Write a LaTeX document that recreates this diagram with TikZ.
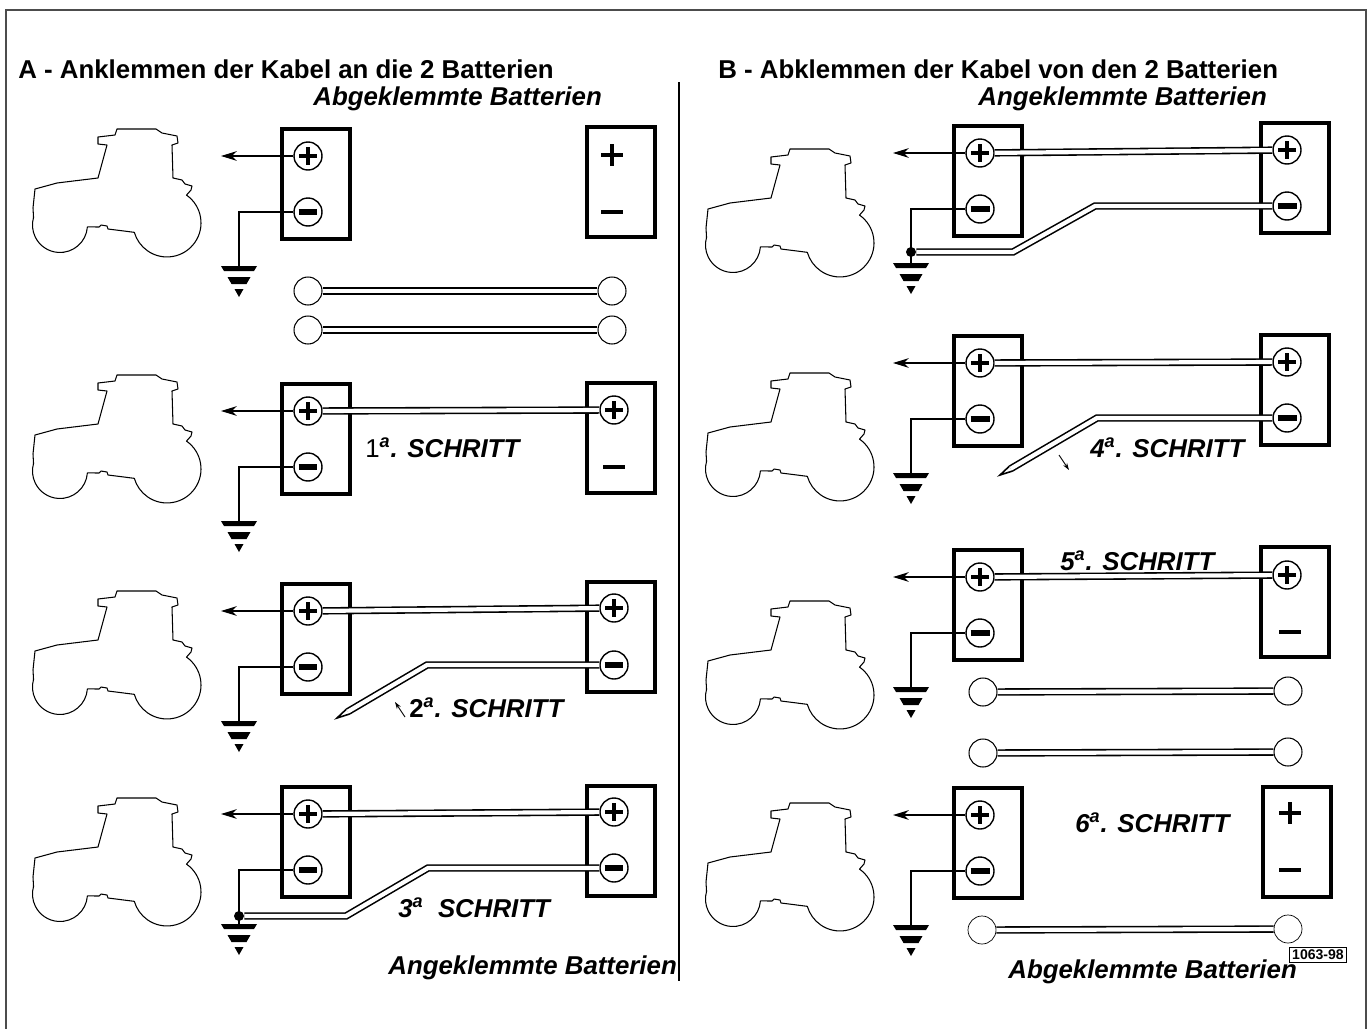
\documentclass[tikz,border=0pt]{standalone}
\usepackage{fontspec}
\setmainfont{Liberation Sans}
\usetikzlibrary{arrows.meta,calc}

\tikzset{
  batt/.style={draw, line width=2.1pt, minimum width=1.36cm, minimum height=2.2cm, inner sep=0pt},
  post/.style={circle, draw, line width=0.8pt, fill=white, minimum size=0.56cm, inner sep=0pt},
  pluspost/.style={post, path picture={
      \draw[line width=2.8pt] ([xshift=-5pt]path picture bounding box.center) -- ([xshift=5pt]path picture bounding box.center)
        ([yshift=-5pt]path picture bounding box.center) -- ([yshift=5pt]path picture bounding box.center);}},
  minuspost/.style={post, path picture={
      \draw[line width=2.9pt] ([xshift=-5.4pt]path picture bounding box.center) -- ([xshift=5.4pt]path picture bounding box.center);}},
  plussign/.style={circle, minimum size=0.6cm, inner sep=0pt, path picture={
      \draw[line width=2.8pt] ([xshift=-6pt]path picture bounding box.center) -- ([xshift=6pt]path picture bounding box.center)
        ([yshift=-6pt]path picture bounding box.center) -- ([yshift=6pt]path picture bounding box.center);}},
  minussign/.style={circle, minimum size=0.6cm, inner sep=0pt, path picture={
      \draw[line width=2.4pt] ([xshift=-6.2pt]path picture bounding box.center) -- ([xshift=6.2pt]path picture bounding box.center);}},
  endring/.style={circle, draw, line width=0.6pt, fill=white, minimum size=0.56cm, inner sep=0pt},
  cable/.style={line width=0.9pt, double=white, double distance=2.4pt},
  tipline/.style={line width=0.9pt, fill=white, line join=miter},
  wire/.style={line width=0.7pt},
  lead/.style={line width=0.7pt, -{Stealth[length=9pt,width=5.5pt]}},
  hint/.style={line width=0.5pt, -{Stealth[length=4pt,width=2.6pt]}},
  joint/.style={circle, fill, inner sep=0pt, minimum size=0.2cm},
  head/.style={anchor=base west, inner sep=0pt, font=\fontsize{14.7}{17}\selectfont\bfseries},
  sub/.style={head, font=\fontsize{14.7}{17}\selectfont\bfseries\itshape},
  stepnote/.style={head, font=\fontsize{14.7}{17}\selectfont\bfseries\itshape},
  % tractor outline, origin at hood front / roof top
  tractor/.pic={
    \draw[line width=0.6pt, line join=round]
      (84,1) -- (123,1) -- (129,5) -- (144,8) -- (145,15) -- (139,17) -- (140,50)
      -- (149,52) -- (152,56) -- (159,58) -- (158,62) -- (153.5,67.1)
      arc[start angle=-55, end angle=164, radius=34]
      -- (75,101) -- (74,98) -- (68,97) -- (66,99) -- (54.4,98.9)
      arc[start angle=4, end angle=196, radius=27.5]
      -- (0,80) -- (2,61) -- (24,55) -- (65,50) -- (74,17) -- (65,16) -- (65,9)
      -- (82,7) -- cycle;
  },
  % earth symbol, origin at top centre
  earth/.pic={
    \fill (-18,0) -- (18,0) -- (15,5) -- (-15,5) -- cycle;
    \fill (-11.5,11) -- (11.5,11) -- (7.5,18) -- (-7.5,18) -- cycle;
    \fill (-4.5,23) -- (4.5,23) -- (0,31) -- cycle;
  },
}

% battery wired to the tractor: box, posts, lead and earth
\newcommand{\mainbatt}[3]{%
  \node[batt] (#1) at (#2,#3) {};
  \node[pluspost] (#1p) at ([shift={(-8,-28)}]#1.center) {};
  \node[minuspost] (#1m) at ([shift={(-8,28)}]#1.center) {};
  \coordinate (#1o) at ([shift={(-95,-28)}]#1.center);
  \coordinate (#1g) at ([shift={(-77,82)}]#1.center);
  \draw[lead] (#1p) -- (#1o);
  \draw[wire] (#1m) -| (#1g);
  \pic at (#1g) {earth};
}

\begin{document}
\begin{tikzpicture}[x=0.02cm, y=-0.02cm]
  \useasboundingbox (0,0) rectangle (1372,1028);
  \draw[line width=0.8pt, black!70] (6,1040) -- (6,10) -- (1366,10) -- (1366,1040);
  \draw[line width=0.6pt] (679,82) -- (679,981);

  % titles
  \node[head] (tA) at (18,78) {A - Anklemmen der Kabel an die 2 Batterien};
  \node[sub] (sA) at (313,105) {Abgeklemmte Batterien};
  \node[head] (tB) at (718,78) {B - Abklemmen der Kabel von den 2 Batterien};
  \node[sub] (sB) at (978,105) {Angeklemmte Batterien};
  \node[sub] (eA) at (388,974) {Angeklemmte Batterien};
  \node[sub] (eB) at (1008,978) {Abgeklemmte Batterien};
  \node[draw, line width=0.8pt, inner sep=1.5pt, font=\fontsize{8}{9}\selectfont\bfseries] (tag) at (1318,955) {1063-98};

  % tractors
  \foreach \ty in {128,374,590,797} \pic at (33,\ty) {tractor};
  \foreach \ty in {148,372,600,802} \pic at (706,\ty) {tractor};

  %% A - connecting
  % batteries apart
  \mainbatt{a1}{316}{184}
  \node[batt] (a1s) at (621,182) {};
  \node[plussign] (a1sp) at (612,155) {};
  \node[minussign] (a1sm) at (612,212) {};
  \node[endring] (c1a) at (308,291) {};
  \node[endring] (c1b) at (612,291) {};
  \node[endring] (c2a) at (308,330) {};
  \node[endring] (c2b) at (612,330) {};
  \draw[cable] (c1a) -- (c1b);
  \draw[cable] (c2a) -- (c2b);

  % 1st step
  \mainbatt{a2}{316}{439}
  \node[batt] (a2s) at (621,438) {};
  \node[pluspost] (a2sp) at (614,410) {};
  \node[minussign] (a2sm) at (614,467) {};
  \draw[cable] (a2p) -- (a2sp);
  \node[stepnote] (n1) at (365,457) {{\upshape\mdseries 1}\textsuperscript{a}. SCHRITT};

  % 2nd step
  \mainbatt{a3}{316}{639}
  \node[batt] (a3s) at (621,637) {};
  \node[pluspost] (a3sp) at (614,608) {};
  \node[minuspost] (a3sm) at (614,665) {};
  \draw[cable] (a3p) -- (a3sp);
  \coordinate (a3k) at (427,665);
  \coordinate (a3t) at (337,718);
  \coordinate (a3e) at ($(a3t)!7pt!(a3k)$);
  \draw[cable] (a3sm) -- (a3k) -- (a3e);
  \draw[tipline] ($(a3e)!1.6pt!90:(a3t)$) -- (a3t) -- ($(a3e)!1.6pt!-90:(a3t)$);
  \coordinate (a3q) at (405,717);
  \coordinate (a3r) at (395,702);
  \draw[hint] (a3q) -- (a3r);
  \node[stepnote] (n2) at (409,717) {{\upshape 2}\textsuperscript{a}. SCHRITT};

  % 3rd step
  \mainbatt{a4}{316}{842}
  \node[batt] (a4s) at (621,841) {};
  \node[pluspost] (a4sp) at (614,812) {};
  \node[minuspost] (a4sm) at (614,868) {};
  \draw[cable] (a4p) -- (a4sp);
  \node[joint] (a4d) at (239,916) {};
  \coordinate (a4k) at (428,868);
  \coordinate (a4l) at (346,916);
  \draw[cable] (a4sm) -- (a4k) -- (a4l) -- (a4d);
  \node[stepnote] (n3) at (398,917) {3\textsuperscript{a}\ \ SCHRITT};

  %% B - disconnecting
  % batteries joined
  \mainbatt{b1}{988}{181}
  \node[batt] (b1s) at (1295,178) {};
  \node[pluspost] (b1sp) at (1287,150) {};
  \node[minuspost] (b1sm) at (1287,206) {};
  \draw[cable] (b1p) -- (b1sp);
  \node[joint] (b1d) at (911,252) {};
  \coordinate (b1k) at (1095,206);
  \coordinate (b1l) at (1013,252);
  \draw[cable] (b1sm) -- (b1k) -- (b1l) -- (b1d);

  % 4th step
  \mainbatt{b2}{988}{391}
  \node[batt] (b2s) at (1295,390) {};
  \node[pluspost] (b2sp) at (1287,362) {};
  \node[minuspost] (b2sm) at (1287,418) {};
  \draw[cable] (b2p) -- (b2sp);
  \coordinate (b2k) at (1097,418);
  \coordinate (b2t) at (1000,475);
  \coordinate (b2e) at ($(b2t)!7pt!(b2k)$);
  \draw[cable] (b2sm) -- (b2k) -- (b2e);
  \draw[tipline] ($(b2e)!1.6pt!90:(b2t)$) -- (b2t) -- ($(b2e)!1.6pt!-90:(b2t)$);
  \coordinate (b2q) at (1059,455);
  \coordinate (b2r) at (1069,470);
  \draw[hint] (b2q) -- (b2r);
  \node[stepnote] (n4) at (1090,457) {4\textsuperscript{a}. SCHRITT};

  % 5th step
  \mainbatt{b3}{988}{605}
  \node[batt] (b3s) at (1295,602) {};
  \node[pluspost] (b3sp) at (1287,575) {};
  \node[minussign] (b3sm) at (1290,632) {};
  \draw[cable] (b3p) -- (b3sp);
  \node[stepnote] (n5) at (1060,570) {5\textsuperscript{a}. SCHRITT};
  \node[endring] (d1a) at (983,692) {};
  \node[endring] (d1b) at (1288,691) {};
  \node[endring] (d2a) at (983,753) {};
  \node[endring] (d2b) at (1288,752) {};
  \draw[cable] (d1a) -- (d1b);
  \draw[cable] (d2a) -- (d2b);

  % 6th step
  \mainbatt{b4}{988}{843}
  \node[batt] (b4s) at (1297,842) {};
  \node[plussign] (b4sp) at (1290,813) {};
  \node[minussign] (b4sm) at (1290,870) {};
  \node[stepnote] (n6) at (1075,832) {6\textsuperscript{a}. SCHRITT};
  \node[endring, line width=0.4pt] (d3a) at (982,930) {};
  \node[endring, line width=0.4pt] (d3b) at (1288,929) {};
  \draw[cable] (d3a) -- (d3b);
\end{tikzpicture}
\end{document}
